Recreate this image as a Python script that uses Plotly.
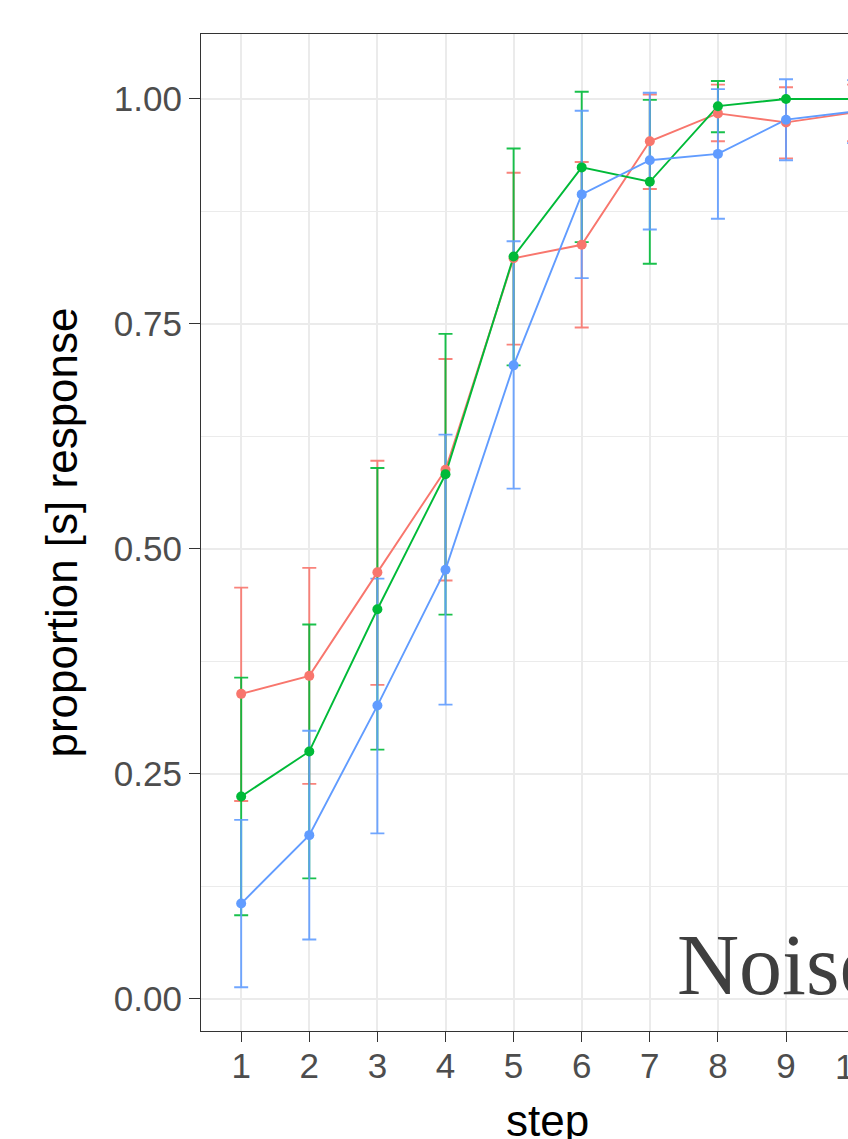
import plotly.graph_objects as go

# Stimulus continuum steps
steps = [1, 2, 3, 4, 5, 6, 7, 8, 9, 10]

# Proportion of [s] responses per step with interval bounds, one set per group
group_a_mean = [0.339, 0.359, 0.474, 0.588, 0.823, 0.838, 0.953, 0.984, 0.974, 0.985]
group_a_low = [0.220, 0.239, 0.349, 0.465, 0.727, 0.746, 0.900, 0.953, 0.934, 0.953]
group_a_high = [0.457, 0.479, 0.598, 0.711, 0.918, 0.930, 1.005, 1.016, 1.013, 1.016]

group_b_mean = [0.225, 0.275, 0.433, 0.583, 0.825, 0.924, 0.908, 0.992, 1.000, 1.000]
group_b_low = [0.093, 0.134, 0.277, 0.427, 0.704, 0.841, 0.817, 0.963, 1.000, 1.000]
group_b_high = [0.357, 0.416, 0.590, 0.739, 0.945, 1.008, 0.999, 1.020, 1.000, 1.000]

group_c_mean = [0.106, 0.182, 0.326, 0.477, 0.704, 0.894, 0.932, 0.939, 0.977, 0.986]
group_c_low = [0.013, 0.066, 0.184, 0.327, 0.567, 0.801, 0.855, 0.867, 0.932, 0.951]
group_c_high = [0.199, 0.298, 0.467, 0.627, 0.842, 0.987, 1.007, 1.011, 1.022, 1.021]

y_ticks = [0.0, 0.25, 0.5, 0.75, 1.0]
y_minor = [0.125, 0.375, 0.625, 0.875]
panel_label = "Noise"

groups = [
    ("group A", group_a_mean, group_a_low, group_a_high, "#F8766D", "rgba(248,118,109,0.9)"),
    ("group B", group_b_mean, group_b_low, group_b_high, "#00BA38", "rgba(0,186,56,0.9)"),
    ("group C", group_c_mean, group_c_low, group_c_high, "#619CFF", "rgba(97,156,255,0.9)"),
]

SANS = "Liberation Sans, Arial, Helvetica, sans-serif"
TICK_SIZE = 35
TITLE_SIZE = 44

# visible part of the step axis (discrete scale padded by 0.6 on the left)
x_range = [0.41, 9.91]
y_range = [-0.0356, 1.0722]

fig = go.Figure()

# error bars
for name, m, lo, hi, col, col_a in groups:
    fig.add_trace(go.Scatter(
        x=steps, y=m, mode="markers", name=name, showlegend=False,
        marker=dict(size=1, color="rgba(0,0,0,0)"),
        error_y=dict(type="data", symmetric=False,
                     array=[h - v for h, v in zip(hi, m)],
                     arrayminus=[v - l for v, l in zip(m, lo)],
                     color=col_a, thickness=1.9, width=7),
        hoverinfo="skip",
    ))

# connecting lines
for name, m, lo, hi, col, col_a in groups:
    fig.add_trace(go.Scatter(
        x=steps, y=m, mode="lines", name=name, showlegend=False,
        line=dict(color=col, width=1.9),
    ))

# points
for name, m, lo, hi, col, col_a in groups:
    fig.add_trace(go.Scatter(
        x=steps, y=m, mode="markers", name=name, showlegend=False,
        marker=dict(size=10, color=col),
    ))

grid = "#EBEBEB"
frame = "#333333"

fig.update_layout(
    width=848, height=1139,
    margin=dict(l=201, r=0, t=34, b=108, pad=0),
    paper_bgcolor="white", plot_bgcolor="white",
    showlegend=False,
    xaxis=dict(
        range=x_range, tickvals=steps, ticktext=[str(s) for s in steps],
        showgrid=True, gridcolor=grid, gridwidth=1.6, zeroline=False,
        showline=True, linecolor=frame, linewidth=1.2, mirror=True,
        ticks="outside", ticklen=10, tickwidth=1.2, tickcolor=frame,
        ticklabelstandoff=-6,
        tickfont=dict(family=SANS, size=TICK_SIZE, color="#4D4D4D"),
    ),
    yaxis=dict(
        range=y_range, tickvals=y_ticks, tickformat=".2f",
        showgrid=True, gridcolor=grid, gridwidth=1.6, zeroline=False,
        showline=True, linecolor=frame, linewidth=1.2, mirror=False,
        ticks="outside", ticklen=11, tickwidth=1.2, tickcolor=frame,
        tickfont=dict(family=SANS, size=TICK_SIZE, color="#4D4D4D"),
        minor=dict(tickvals=y_minor, showgrid=True, gridcolor=grid, gridwidth=1.0, ticks=""),
        title=dict(text="proportion [s] response", font=dict(family=SANS, size=TITLE_SIZE, color="black"), standoff=22),
    ),
)

# the last step label sits past the visible edge of the panel
last = steps[-1]
fig.add_annotation(
    x=(last - x_range[0]) / (x_range[1] - x_range[0]), xref="paper", xanchor="center",
    y=0, yref="paper", yanchor="middle", yshift=-35,
    text=str(last), showarrow=False,
    font=dict(family=SANS, size=TICK_SIZE, color="#4D4D4D"),
)

# x-axis title centred on the full step range
fig.add_annotation(
    x=(steps[0] + steps[-1]) / 2, xref="x", xanchor="center",
    y=0, yref="paper", yanchor="middle", yshift=-89,
    text="step", showarrow=False,
    font=dict(family=SANS, size=TITLE_SIZE, color="black"),
)

# panel label
fig.add_annotation(
    x=7.37, xref="x", xanchor="left",
    y=-0.018, yref="y", yanchor="bottom",
    text=panel_label, showarrow=False,
    font=dict(family="Liberation Serif, Times New Roman, serif", size=86, color="#3F3F3F"),
)

fig.write_html("out.html")
